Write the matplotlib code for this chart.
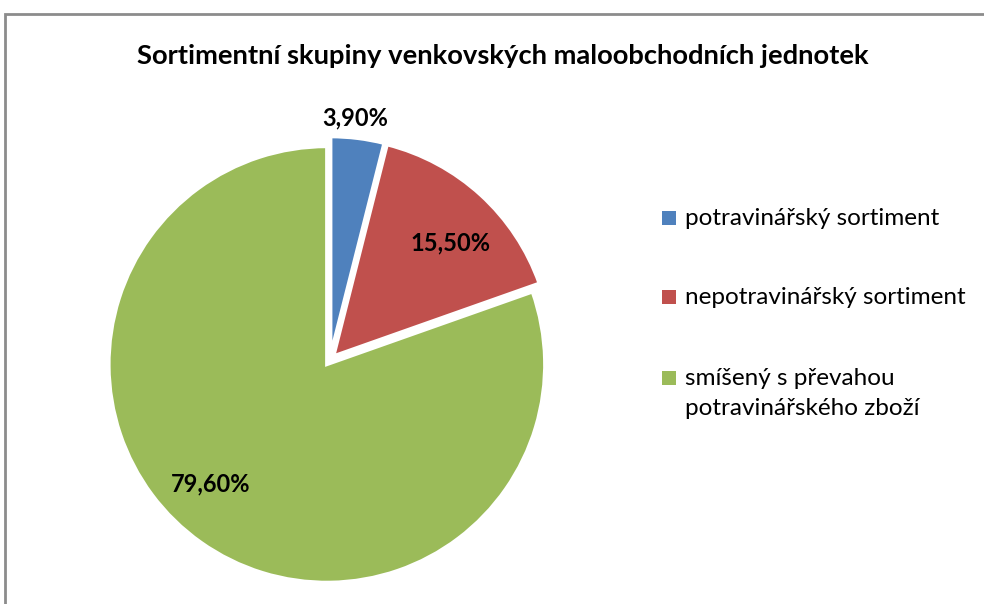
import numpy as np
import matplotlib
matplotlib.use("Agg")
import matplotlib.pyplot as plt
from matplotlib.patches import Rectangle

plt.rcParams['font.family'] = ['Lato', 'DejaVu Sans']

title = "Sortimentní skupiny venkovských maloobchodních jednotek"
categories = ["potravinářský sortiment",
              "nepotravinářský sortiment",
              "smíšený s převahou\npotravinářského zboží"]
shares = [3.9, 15.5, 79.6]
colors = ["#4f81bd", "#c0504d", "#9bbb59"]

# label positions (radius, angle in degrees) relative to the pie centre
label_pos = [(1.115, 84.1), (0.77, 44.3), (0.79, 226.0)]

W, H = 984, 604
fig = plt.figure(figsize=(W / 100, H / 100), dpi=100)

# chart frame (only left and top edges fall inside the image)
fig.patches.append(Rectangle((5 / W, -0.1), 1.2, 1 - 14 / H + 0.1,
                             transform=fig.transFigure, fill=False,
                             edgecolor="#8c8c8c", linewidth=2))

cx, cy, size, rad_px = 330, 360, 560, 218
ax = fig.add_axes([(cx - size / 2) / W, (H - cy - size / 2) / H, size / W, size / H])

wedges, _, autotexts = ax.pie(
    shares, colors=colors, startangle=90, counterclock=False,
    explode=[0.025] * 3, radius=1.0,
    wedgeprops=dict(edgecolor="white", linewidth=2.5),
    autopct=lambda p: f"{p:.2f}%".replace(".", ","),
    textprops=dict(fontsize=17, fontweight="bold", color="black"),
)
lim = size / 2 / rad_px
ax.set_xlim(-lim, lim)
ax.set_ylim(-lim, lim)
ax.set_aspect("equal")
ax.axis("off")

for t, v, (r, a) in zip(autotexts, shares, label_pos):
    t.set_text(f"{v:.2f}%".replace(".", ","))
    t.set_position((r * np.cos(np.radians(a)), r * np.sin(np.radians(a))))
    t.set_ha("center")
    t.set_va("center")

fig.text(503 / W, 1 - 56 / H, title, ha="center", va="center",
         fontsize=19.7, fontweight="bold")

# legend: colour square followed by the category name
row_y = [218, 297, 378]
line_step = 30
for name, col, y in zip(categories, colors, row_y):
    fig.patches.append(Rectangle((662 / W, 1 - (y + 7) / H), 14 / W, 14 / H,
                                 transform=fig.transFigure, facecolor=col,
                                 edgecolor="none"))
    for i, line in enumerate(name.split("\n")):
        fig.text(685 / W, 1 - (y + 7 + i * line_step) / H, line,
                 ha="left", va="baseline", fontsize=17.5)

fig.savefig("out.png", dpi=100, facecolor="white")
